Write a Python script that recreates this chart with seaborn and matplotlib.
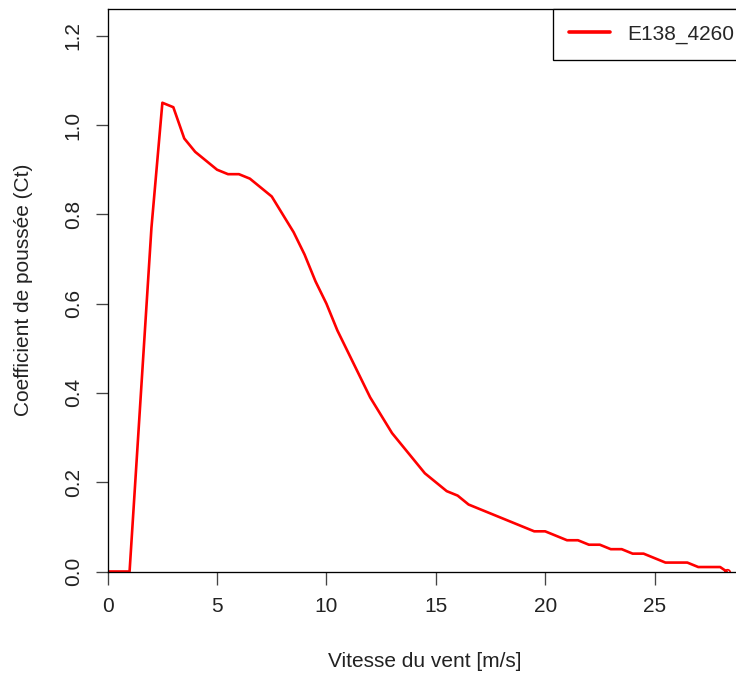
import numpy as np
import pandas as pd
import seaborn as sns
import matplotlib
matplotlib.use("Agg")
from matplotlib import pyplot as plt

# courbe Ct de l'eolienne E138_4260
vitesse = [0.0, 1.0, 2.0, 2.5, 3.0, 3.5, 4.0, 5.0, 5.5, 6.0, 6.5, 7.5, 8.5, 9.0,
           9.5, 10.0, 10.5, 12.0, 13.0, 14.5, 15.5, 16.0, 16.5, 19.5, 20.0, 21.0,
           21.5, 22.0, 22.5, 23.0, 23.5, 24.0, 24.5, 25.5, 26.5, 27.0, 28.0, 28.3]
ct = [0.0, 0.0, 0.77, 1.05, 1.04, 0.97, 0.94, 0.90, 0.89, 0.89, 0.88, 0.84, 0.76, 0.71,
      0.65, 0.60, 0.54, 0.39, 0.31, 0.22, 0.18, 0.17, 0.15, 0.09, 0.09, 0.07,
      0.07, 0.06, 0.06, 0.05, 0.05, 0.04, 0.04, 0.02, 0.02, 0.01, 0.01, 0.0]
modele = "E138_4260"
xticks = [0, 5, 10, 15, 20, 25]
yticks = [0.0, 0.2, 0.4, 0.6, 0.8, 1.0, 1.2]

df = pd.DataFrame({"Vitesse": vitesse, "Ct": ct, "Modele": modele})

sns.set_style("white")
plt.rcParams['font.family'] = ['Liberation Sans', 'DejaVu Sans']

fig = plt.figure(figsize=(7.36, 6.73), dpi=100)
# axes a la facon R (xaxs/yaxs = "i"), le bord droit sort de l'image
ax = fig.add_axes([107.7 / 736, (673 - 571.5) / 673, (742 - 107.7) / 736, (571.5 - 9) / 673])

sns.lineplot(data=df, x="Vitesse", y="Ct", hue="Modele", palette=["#ff0000"],
             estimator=None, sort=False, linewidth=1.9, ax=ax)
ax.plot(vitesse[-1], ct[-1], marker="o", mfc="none", mec="#ff0000", ms=4, mew=1.2)

ax.set_xlim(0, 29)
ax.set_ylim(0, 1.26)
ax.set_xticks(xticks)
ax.set_yticks(yticks)
ax.set_xticklabels([str(t) for t in xticks], fontsize=15)
ax.set_yticklabels(["%.1f" % t for t in yticks], fontsize=15, rotation=90, va="center")
ax.tick_params(axis="both", direction="out", length=9, width=0.95, color="#444444",
               labelcolor="#222222", pad=9, bottom=True, left=True)
for s in ax.spines.values():
    s.set_color("black")
    s.set_linewidth(0.95)

ax.set_xlabel("Vitesse du vent [m/s]", fontsize=15, color="#222222", labelpad=26)
ax.set_ylabel("Coefficient de poussée (Ct)", fontsize=15, color="#222222", labelpad=22)

leg = ax.legend(loc="upper right", bbox_to_anchor=(1.0126, 1.0), borderaxespad=0,
                fancybox=False, framealpha=1, edgecolor="black", fontsize=15,
                handlelength=1.95, handletextpad=0.85, borderpad=0.75)
leg.get_frame().set_linewidth(0.95)
for h in leg.legend_handles:
    h.set_linewidth(2.6)
leg.set_title(None)

fig.savefig("out.png", dpi=100)
